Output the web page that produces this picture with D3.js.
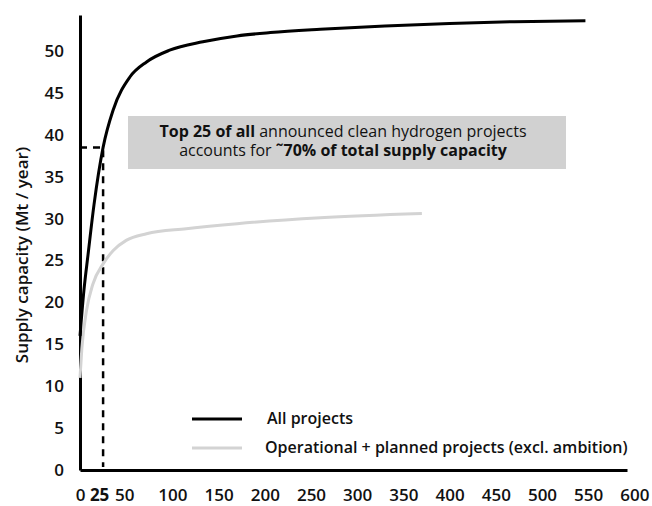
<!DOCTYPE html>
<html>
<head>
<meta charset="utf-8">
<script src="https://cdn.jsdelivr.net/npm/d3@7"></script>
<style>
  body { margin: 0; background: #fff; }
  svg text { font-family: 'Open Sans', 'DejaVu Sans', sans-serif; }
</style>
</head>
<body>
<svg width="652" height="506"></svg>
<script>
// projects ranked by size (x) vs cumulative supply capacity (Mt / year)
const allProjects = [
  [0, 16], [4.3, 21.5], [8.7, 25.7], [15.2, 31.7], [25, 38.5], [36, 43], [54, 46.9],
  [72, 48.7], [97, 50.1], [133, 51.1], [170, 51.8], [206, 52.2], [260, 52.6],
  [330, 53], [400, 53.3], [470, 53.5], [547, 53.6]
];
const plannedProjects = [
  [0, 11], [2, 14.5], [7, 19], [14, 22.2], [25, 24.6], [36, 26.2], [50, 27.4],
  [72, 28.2], [115, 28.8], [170, 29.4], [260, 30.1], [370, 30.6]
];
const xTicks = [0, 25, 50, 100, 150, 200, 250, 300, 350, 400, 450, 500, 550, 600];
const yTicks = [0, 5, 10, 15, 20, 25, 30, 35, 40, 45, 50];
const topN = 25;
const topValue = 38.5;
const noteLines = [
  [['Top 25 of all', 700], ['\u00a0announced clean hydrogen projects', 500]],
  [['accounts for\u00a0', 500], ['˜70% of total supply capacity', 700]]
];
const legendItems = [
  { label: 'All projects', color: '#000' },
  { label: 'Operational + planned projects (excl. ambition)', color: '#d3d3d3' }
];

const svg = d3.select('svg');

const x = d3.scaleLinear().domain([0, 592]).range([80, 627]);
const y = d3.scaleLinear().domain([0, 54.3]).range([470, 15]);

// axes
const xAxis = svg.append('g')
  .attr('transform', `translate(0,${y(0)})`)
  .call(d3.axisBottom(x).tickValues(xTicks).tickSize(0).tickSizeOuter(0)
    .tickFormat(d3.format('d')));
xAxis.select('.domain').attr('stroke', '#000').attr('stroke-width', 3);
xAxis.selectAll('text')
  .attr('y', 31).attr('dy', 0)
  .attr('dx', d => (d === topN ? -4 : d === 50 ? -2 : 0))
  .attr('fill', '#111')
  .style('font-size', '17px')
  .style('font-weight', d => (d === topN ? 700 : 600));

const yAxis = svg.append('g')
  .attr('transform', `translate(${x(0)},0)`)
  .call(d3.axisLeft(y).tickValues(yTicks).tickSize(0).tickSizeOuter(0));
yAxis.select('.domain').attr('stroke', '#000').attr('stroke-width', 3);
yAxis.selectAll('text')
  .attr('x', -16)
  .attr('fill', '#111')
  .style('font-size', '17px')
  .style('font-weight', 600);

svg.append('text')
  .attr('transform', 'translate(28,255) rotate(-90)')
  .attr('text-anchor', 'middle')
  .attr('fill', '#111')
  .style('font-size', '17px')
  .style('font-weight', 600)
  .text('Supply capacity (Mt / year)');

// dashed guides for the top 25 projects
svg.append('path')
  .attr('d', `M${x(0)},${y(topValue)}H${x(topN)}V${y(0) - 3}`)
  .attr('fill', 'none')
  .attr('stroke', '#000')
  .attr('stroke-width', 2.5)
  .attr('stroke-dasharray', '7,6');

// curves
const line = d3.line()
  .x(d => x(d[0]))
  .y(d => y(d[1]))
  .curve(d3.curveMonotoneX);

svg.append('path')
  .datum(plannedProjects)
  .attr('d', line)
  .attr('fill', 'none')
  .attr('stroke', legendItems[1].color)
  .attr('stroke-width', 3);

svg.append('path')
  .datum(allProjects)
  .attr('d', line)
  .attr('fill', 'none')
  .attr('stroke', legendItems[0].color)
  .attr('stroke-width', 3);

// annotation box
svg.append('rect')
  .attr('x', 128).attr('y', 116)
  .attr('width', 438).attr('height', 53)
  .attr('fill', '#d1d1d1');

// each run is its own text, laid out side by side and centred on the box
const note = svg.append('g');
noteLines.forEach((runs, i) => {
  const texts = runs.map(r => note.append('text')
    .attr('y', 137 + i * 19)
    .attr('fill', '#111')
    .style('font-size', '16px')
    .style('font-weight', r[1])
    .text(r[0]));
  const widths = texts.map(t => t.node().getComputedTextLength());
  let cx = 343 - d3.sum(widths) / 2;
  texts.forEach((t, j) => {
    t.attr('x', cx);
    cx += widths[j];
  });
});

// legend
const legend = svg.append('g')
  .selectAll('g')
  .data(legendItems)
  .join('g')
  .attr('transform', (d, i) => `translate(192,${419 + i * 29})`);
legend.append('line')
  .attr('x1', 0).attr('x2', 50)
  .attr('stroke', d => d.color)
  .attr('stroke-width', 3);
legend.append('text')
  .attr('x', (d, i) => (i === 0 ? 75 : 73))
  .attr('y', 5)
  .attr('fill', '#111')
  .style('font-size', '16px')
  .style('font-weight', 600)
  .text(d => d.label);
</script>
</body>
</html>
